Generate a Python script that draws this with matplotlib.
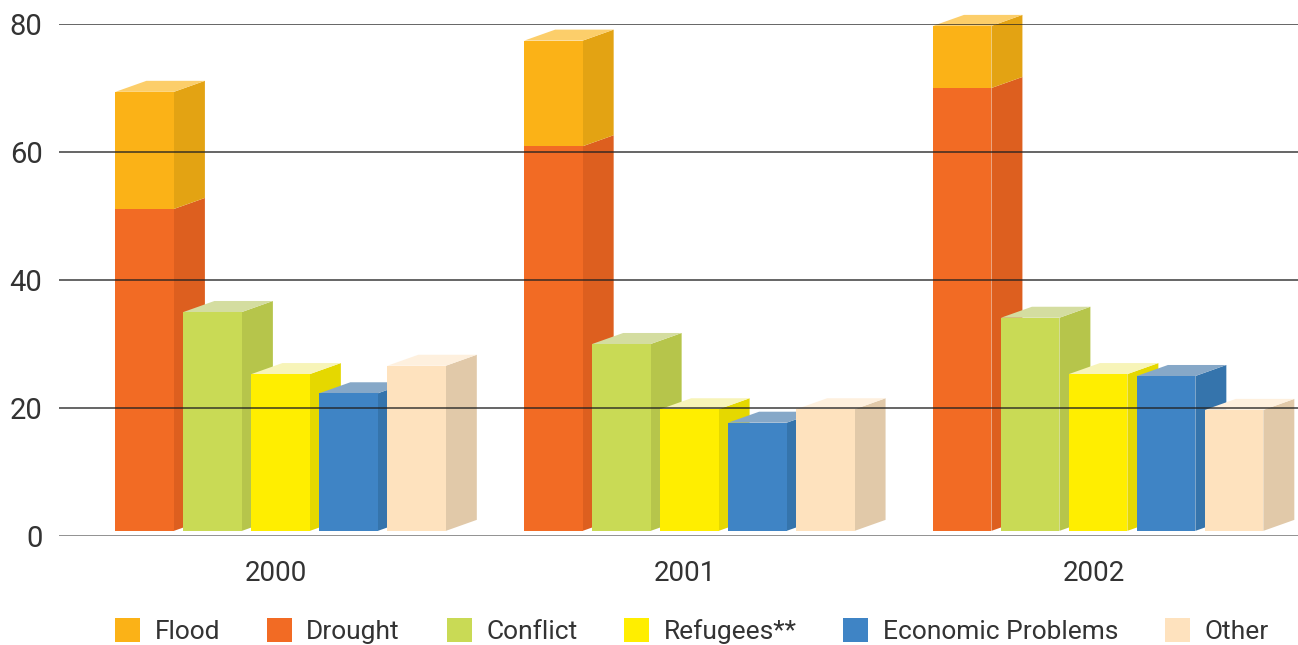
import matplotlib.pyplot as plt
from matplotlib.patches import Rectangle, Polygon, Patch

# data
years = ['2000', '2001', '2002']
flood = [18.3, 16.5, 9.7]
drought = [51.1, 60.9, 70.0]
conflict = [35.0, 30.0, 34.1]
refugees = [25.3, 19.8, 25.3]
economic = [22.3, 17.7, 25.0]
other = [26.6, 19.8, 19.7]

labels = ['Flood', 'Drought', 'Conflict', 'Refugees**', 'Economic Problems', 'Other']

# (front, side, top) colours
colours = {
    'Flood': ('#FBB217', '#E3A313', '#FCCE6A'),
    'Drought': ('#F26B24', '#DD5F1F', '#F59A6A'),
    'Conflict': ('#C9DA55', '#B6C54B', '#D4DDA0'),
    'Refugees**': ('#FFEE00', '#E5D800', '#F7F4B8'),
    'Economic Problems': ('#3F84C5', '#3574AC', '#86A8C8'),
    'Other': ('#FEE2BE', '#E1C9A9', '#FEF0DE'),
}

plt.rcParams['font.family'] = ['Roboto', 'DejaVu Sans']

fig = plt.figure(figsize=(12.98, 6.45), dpi=100)
ax = fig.add_axes([0.0455, 0.169, 0.9545, 0.7938])
ax.set_xlim(-0.531, 2.5)
ax.set_ylim(0, 80)

w = 0.143       # front face width
pitch = 0.1663  # distance between bars in a group
start = -0.393  # first bar offset from category centre
dx = 0.0758     # depth, horizontal
dy = 1.72       # depth, vertical (data units)
floor = 0.8     # bars sit slightly above the zero line


def box(x0, y0, y1, col, top=True):
    front, side, topc = col
    ax.add_patch(Polygon([(x0 + w, y0), (x0 + w + dx, y0 + dy), (x0 + w + dx, y1 + dy), (x0 + w, y1)],
                         closed=True, facecolor=side, edgecolor='none', clip_on=False, zorder=2))
    if top:
        ax.add_patch(Polygon([(x0, y1), (x0 + dx, y1 + dy), (x0 + w + dx, y1 + dy), (x0 + w, y1)],
                             closed=True, facecolor=topc, edgecolor='none', clip_on=False, zorder=2))
    ax.add_patch(Rectangle((x0, y0), w, y1 - y0, facecolor=front, edgecolor='none',
                           clip_on=False, zorder=2))


for i in range(len(years)):
    x = i + start
    box(x, floor, drought[i], colours['Drought'], top=False)
    box(x, drought[i], drought[i] + flood[i], colours['Flood'])
    singles = [conflict, refugees, economic, other]
    for k, (name, vals) in enumerate(zip(labels[2:], singles)):
        box(x + (k + 1) * pitch, floor, vals[i], colours[name])

# grid lines sit on top of the bars
for g in [20, 40, 60, 80]:
    ax.axhline(g, color='#222222', lw=1.3, alpha=0.75, zorder=5)
ax.axhline(0, color='#888888', lw=2, zorder=5)

for s in ax.spines.values():
    s.set_visible(False)
ax.set_yticks([0, 20, 40, 60, 80])
ax.set_xticks(range(len(years)))
ax.set_xticklabels(years)
ax.tick_params(axis='y', length=0, pad=12, labelsize=21, labelcolor='#333333')
ax.tick_params(axis='x', length=0, pad=17, labelsize=20, labelcolor='#333333')

handles = [Patch(facecolor=colours[n][0], edgecolor='none', label=n) for n in labels]
fig.legend(handles=handles, loc='center', bbox_to_anchor=(0.533, 0.022), ncol=6,
           frameon=False, fontsize=19, handlelength=0.95, handleheight=1.05,
           handletextpad=0.55, columnspacing=1.77, labelcolor='#333333')

fig.savefig('out.png', dpi=100)
